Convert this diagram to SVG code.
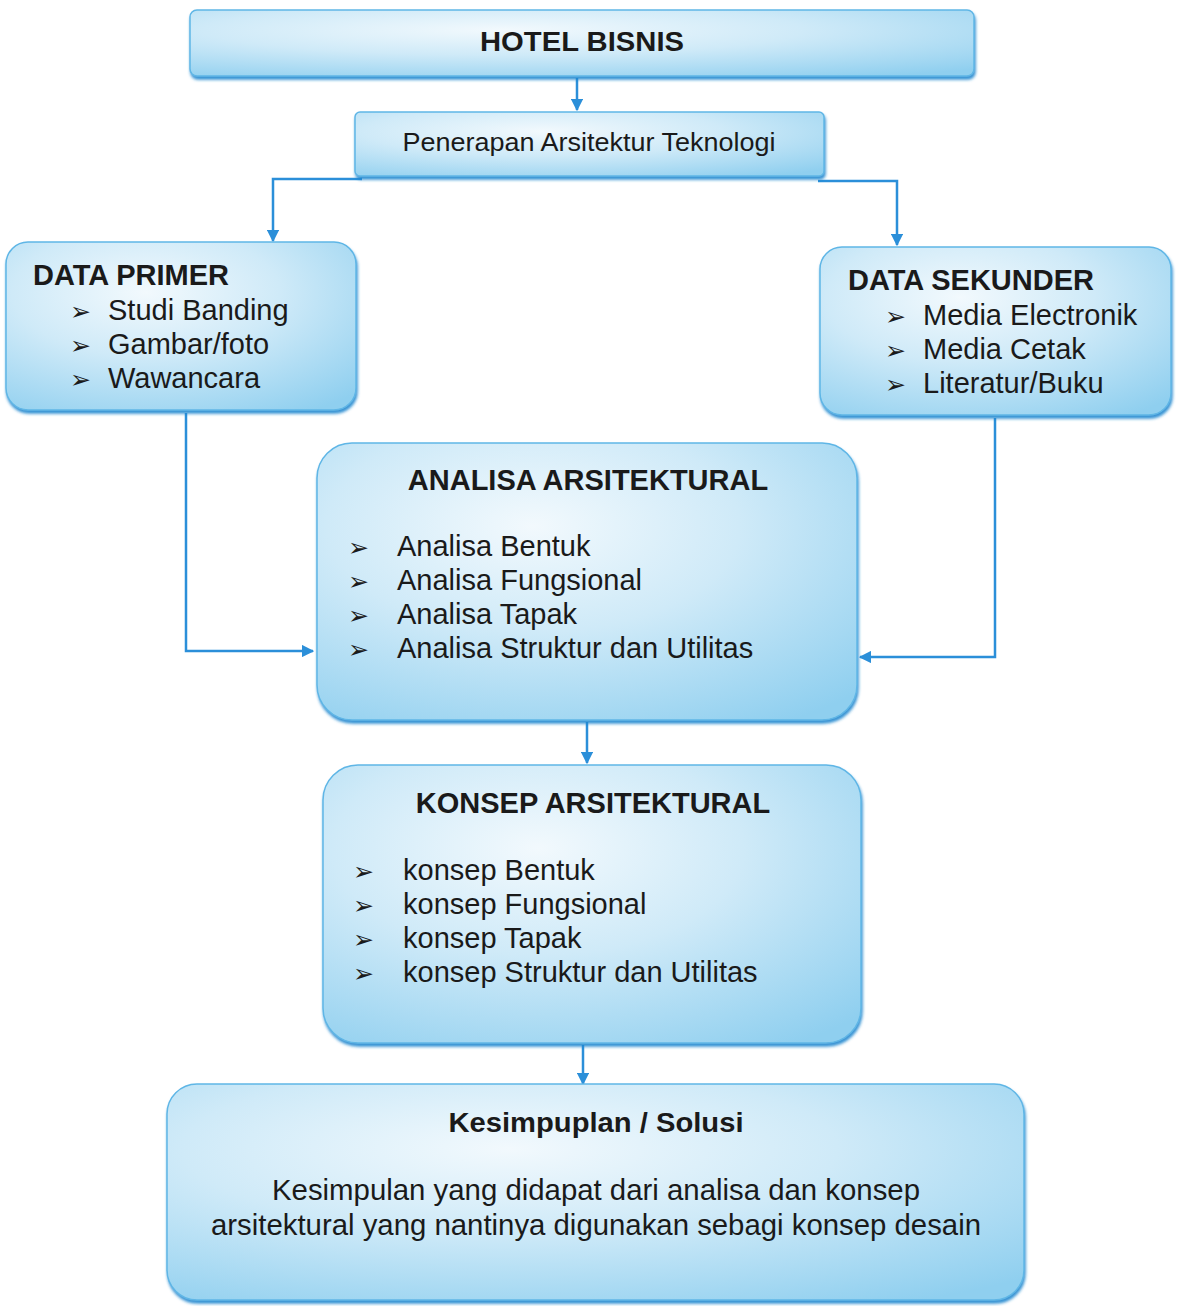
<svg xmlns="http://www.w3.org/2000/svg" width="1179" height="1306" viewBox="0 0 1179 1306">
<defs>
<radialGradient id="fillG" cx="0.4" cy="0.3" r="0.85">
<stop offset="0" stop-color="#f2f9fd"/>
<stop offset="0.45" stop-color="#cfeaf8"/>
<stop offset="1" stop-color="#8fcfef"/>
</radialGradient>
<filter id="sh" x="-5%" y="-5%" width="110%" height="115%">
<feDropShadow dx="1" dy="3" stdDeviation="1.5" flood-color="#1e86cf" flood-opacity="0.9"/>
</filter>
<marker id="arr" viewBox="0 0 10 10" refX="9" refY="5" markerWidth="5" markerHeight="5" orient="auto" markerUnits="strokeWidth">
<path d="M0,0 L10,5 L0,10 z" fill="#2b8fd9"/>
</marker>
<style>
.box{fill:url(#fillG);stroke:#5fb6e6;stroke-width:1.5;filter:url(#sh)}
.t{font-family:"Liberation Sans",Arial,sans-serif;fill:#1a1a1a}
.b{font-weight:bold}
.bul{font-family:"DejaVu Sans",sans-serif;font-size:25px;fill:#1a1a1a}
.c{fill:none;stroke:#2b8fd9;stroke-width:2.5}
</style>
</defs>
<g id="connectors">
<path class="c" d="M577,78 V110" marker-end="url(#arr)"/>
<path class="c" d="M362,179 H273 V241" marker-end="url(#arr)"/>
<path class="c" d="M818,181 H897 V245" marker-end="url(#arr)"/>
<path class="c" d="M186,413 V651 H313" marker-end="url(#arr)"/>
<path class="c" d="M995,418 V657 H860" marker-end="url(#arr)"/>
<path class="c" d="M587,722 V763" marker-end="url(#arr)"/>
<path class="c" d="M583,1045 V1084" marker-end="url(#arr)"/>
</g>
<g id="hotel">
<rect class="box" x="190" y="10" width="784" height="66" rx="7"/>
<text class="t b" x="582" y="51" font-size="28" text-anchor="middle" textLength="204" lengthAdjust="spacingAndGlyphs">HOTEL BISNIS</text>
</g>
<g id="penerapan">
<rect class="box" x="355" y="112" width="469" height="64" rx="5"/>
<text class="t" x="589" y="151" font-size="26" text-anchor="middle" textLength="373" lengthAdjust="spacingAndGlyphs">Penerapan Arsitektur Teknologi</text>
</g>
<g id="primer">
<rect class="box" x="6" y="242" width="350" height="168" rx="22"/>
<text class="t b" x="33" y="285" font-size="29">DATA PRIMER</text>
<text class="bul" x="70" y="320">➢</text>
<text class="bul" x="70" y="354">➢</text>
<text class="bul" x="70" y="388">➢</text>
<text class="t" x="108" y="320" font-size="29">Studi Banding</text>
<text class="t" x="108" y="354" font-size="29">Gambar/foto</text>
<text class="t" x="108" y="388" font-size="29">Wawancara</text>
</g>
<g id="sekunder">
<rect class="box" x="820" y="247" width="351" height="168" rx="22"/>
<text class="t b" x="848" y="290" font-size="29">DATA SEKUNDER</text>
<text class="bul" x="885" y="325">➢</text>
<text class="bul" x="885" y="359">➢</text>
<text class="bul" x="885" y="393">➢</text>
<text class="t" x="923" y="325" font-size="29">Media Electronik</text>
<text class="t" x="923" y="359" font-size="29">Media Cetak</text>
<text class="t" x="923" y="393" font-size="29">Literatur/Buku</text>
</g>
<g id="analisa">
<rect class="box" x="317" y="443" width="540" height="277" rx="35"/>
<text class="t b" x="588" y="490" font-size="29" text-anchor="middle">ANALISA ARSITEKTURAL</text>
<text class="bul" x="348" y="556">➢</text>
<text class="bul" x="348" y="590">➢</text>
<text class="bul" x="348" y="624">➢</text>
<text class="bul" x="348" y="658">➢</text>
<text class="t" x="397" y="556" font-size="29">Analisa Bentuk</text>
<text class="t" x="397" y="590" font-size="29">Analisa Fungsional</text>
<text class="t" x="397" y="624" font-size="29">Analisa Tapak</text>
<text class="t" x="397" y="658" font-size="29">Analisa Struktur dan Utilitas</text>
</g>
<g id="konsep">
<rect class="box" x="323" y="765" width="538" height="278" rx="35"/>
<text class="t b" x="593" y="813" font-size="29" text-anchor="middle">KONSEP ARSITEKTURAL</text>
<text class="bul" x="353" y="880">➢</text>
<text class="bul" x="353" y="914">➢</text>
<text class="bul" x="353" y="948">➢</text>
<text class="bul" x="353" y="982">➢</text>
<text class="t" x="403" y="880" font-size="29">konsep Bentuk</text>
<text class="t" x="403" y="914" font-size="29">konsep Fungsional</text>
<text class="t" x="403" y="948" font-size="29">konsep Tapak</text>
<text class="t" x="403" y="982" font-size="29">konsep Struktur dan Utilitas</text>
</g>
<g id="kesimpulan">
<rect class="box" x="167" y="1084" width="857" height="216" rx="30"/>
<text class="t b" x="596" y="1132" font-size="28" text-anchor="middle" textLength="295" lengthAdjust="spacingAndGlyphs">Kesimpuplan / Solusi</text>
<text class="t" x="596" y="1200" font-size="29" text-anchor="middle" textLength="648" lengthAdjust="spacingAndGlyphs">Kesimpulan yang didapat dari analisa dan konsep</text>
<text class="t" x="596" y="1235" font-size="29" text-anchor="middle" textLength="770" lengthAdjust="spacingAndGlyphs">arsitektural yang nantinya digunakan sebagi konsep desain</text>
</g>
</svg>
